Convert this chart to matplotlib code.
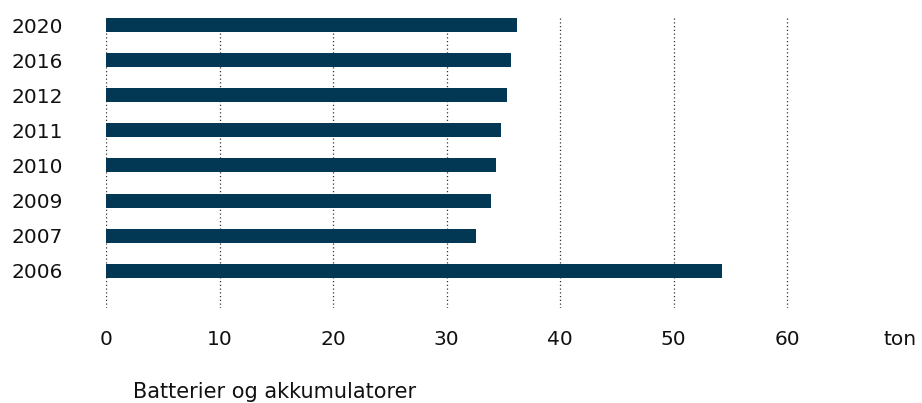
import matplotlib.pyplot as plt

# data (tons)
years = ['2006', '2007', '2009', '2010', '2011', '2012', '2016', '2020']
tons = [54.3, 32.6, 33.9, 34.4, 34.8, 35.3, 35.7, 36.2]
x_ticks = [0, 10, 20, 30, 40, 50, 60, 70]
x_labels = ['0', '10', '20', '30', '40', '50', '60', 'ton']
grid_ticks = [0, 10, 20, 30, 40, 50, 60]

bar_color = '#023854'

fig = plt.figure(figsize=(9.22, 4.03), dpi=100)
ax = fig.add_axes([106 / 922, 1 - 308 / 403, (900.5 - 106) / 922, 290 / 403])

pos = list(range(len(years)))
for g in grid_ticks:
    ax.axvline(g, color='#333333', linestyle=(0, (1, 2)), linewidth=0.9, zorder=0)
ax.barh(pos, tons, height=0.4, color=bar_color, zorder=2)

ax.set_xlim(0, 70)
ax.set_ylim(-1.06, 7.2)
ax.set_yticks(pos)
ax.set_yticklabels(years)
ax.set_xticks(x_ticks)
ax.set_xticklabels(x_labels)
ax.tick_params(axis='x', length=0, pad=16, labelsize=14.5, colors='#111111')
ax.tick_params(axis='y', length=0, pad=31, labelsize=14.5, colors='#111111')
for s in ax.spines.values():
    s.set_visible(False)

fig.text(133 / 922, 1 - 398 / 403, 'Batterier og akkumulatorer', fontsize=15,
         ha='left', va='baseline', color='#111111')

plt.savefig('out.png', dpi=100)
